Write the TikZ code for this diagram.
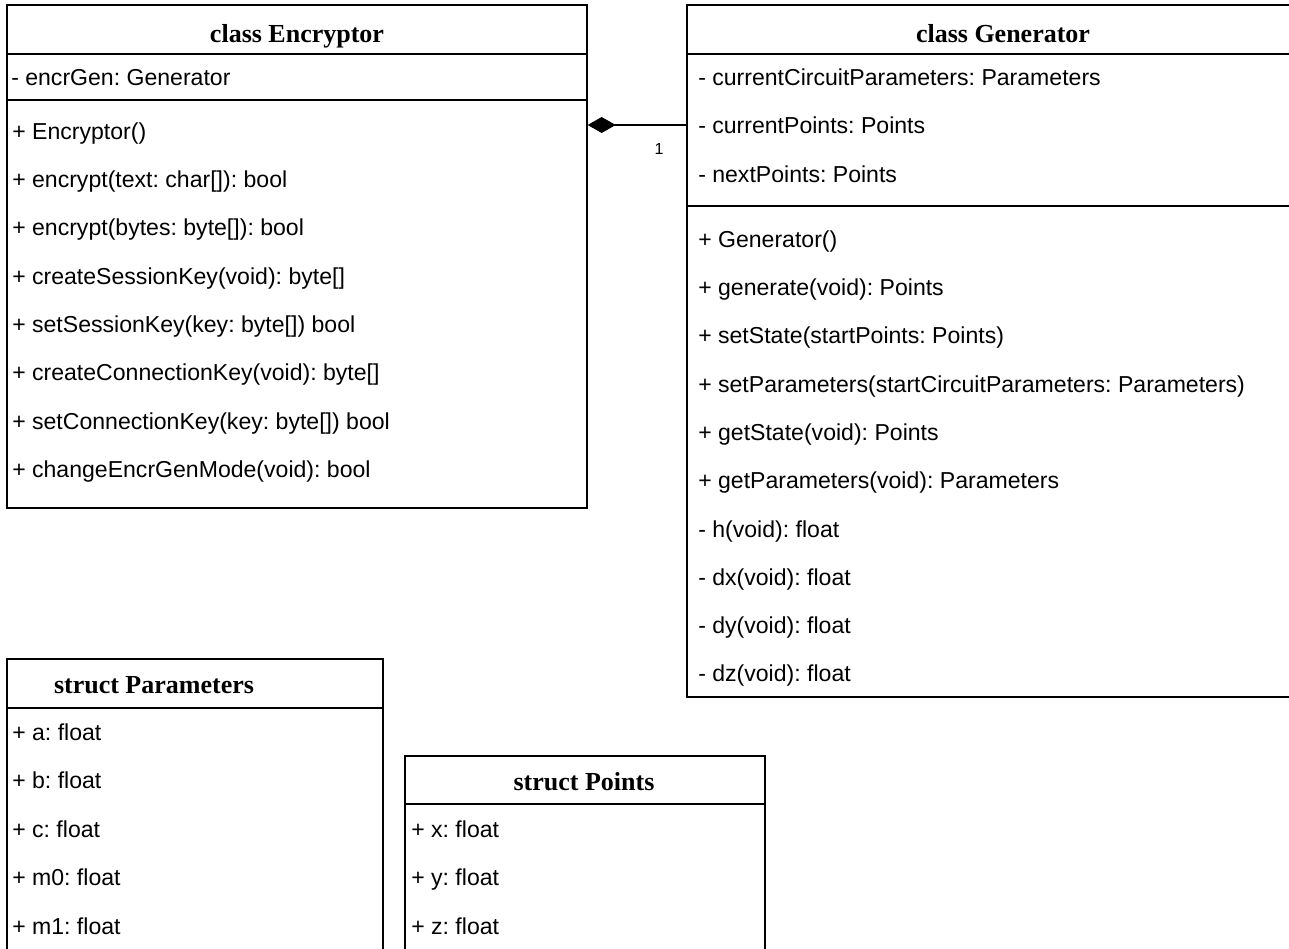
\documentclass[tikz,border=0pt]{standalone}
\usepackage{fontspec}
\setmainfont{Liberation Sans}
\newfontfamily\umlserif{Liberation Serif}
\usetikzlibrary{arrows.meta,positioning,fit}
\frenchspacing
\tikzset{
  umlbox/.style={draw, line width=1pt, inner sep=0pt},
  umltitle/.style={inner sep=0pt, text height=13pt, text depth=0pt,
    font=\umlserif\bfseries\fontsize{19.5}{22}\selectfont},
  umlrow/.style={anchor=west, inner sep=0pt, text height=12.4pt, text depth=0pt,
    font=\fontsize{17.3}{20}\selectfont},
  umlsep/.style={line width=1pt},
  compo/.style={line width=1pt, {Diamond[length=21pt, width=12pt]}-},
}

\begin{document}
\begin{tikzpicture}[x=0.75pt, y=-0.75pt]
  \clip (0,0) rectangle (1289,949);
  \fill[white] (0,0) rectangle (1289,949);

  % class boxes
  \node[umlbox, fit={(7,5) (587,508)}] (enc) {};
  \node[umlbox, fit={(687,5) (1319,697)}] (gen) {};
  \node[umlbox, fit={(7,659) (383,980)}] (par) {};
  \node[umlbox, fit={(405,756) (765,980)}] (pts) {};

  % compartments
  \draw[umlsep] (enc.west |- 0,54) -- (enc.east |- 0,54);
  \draw[umlsep] (enc.west |- 0,100) -- (enc.east |- 0,100);
  \draw[umlsep] (gen.west |- 0,54) -- (gen.east |- 0,54);
  \draw[umlsep] (gen.west |- 0,206) -- (gen.east |- 0,206);
  \draw[umlsep] (par.west |- 0,708) -- (par.east |- 0,708);
  \draw[umlsep] (pts.west |- 0,804) -- (pts.east |- 0,804);

  % titles
  \node[umltitle] (enc-title) at (297,34) {class Encryptor};
  \node[umltitle] (gen-title) at (1003,34) {class Generator};
  \node[umltitle] (par-title) at (154,685) {struct Parameters};
  \node[umltitle] (pts-title) at (584,782) {struct Points};

  % Encryptor members
  \node[umlrow] (enc-a1) at (11,77) {- encrGen: Generator};
  \foreach \txt [count=\i] in {+ Encryptor(), + encrypt(text: char[]): bool,
      + encrypt(bytes: byte[]): bool, + createSessionKey(void): byte[],
      + setSessionKey(key: byte[]) bool, + createConnectionKey(void): byte[],
      + setConnectionKey(key: byte[]) bool, + changeEncrGenMode(void): bool}
    \node[umlrow] (enc-m\i) at (12,{82.7+48.3*\i}) {\txt};

  % Generator members
  \foreach \txt [count=\i] in {- currentCircuitParameters: Parameters,
      - currentPoints: Points, - nextPoints: Points}
    \node[umlrow] (gen-a\i) at (698,{28.3+48.6*\i}) {\txt};
  \foreach \txt [count=\i] in {+ Generator(), + generate(void): Points,
      + setState(startPoints: Points),
      + setParameters(startCircuitParameters: Parameters),
      + getState(void): Points, + getParameters(void): Parameters,
      - h(void): float, - dx(void): float, - dy(void): float, - dz(void): float}
    \node[umlrow] (gen-m\i) at (698,{190.7+48.3*\i}) {\txt};

  % struct fields
  \foreach \txt [count=\i] in {+ a: float, + b: float, + c: float, + m0: float, + m1: float}
    \node[umlrow] (par-f\i) at (12,{683.5+48.5*\i}) {\txt};
  \foreach \txt [count=\i] in {+ x: float, + y: float, + z: float}
    \node[umlrow] (pts-f\i) at (411,{780.5+48.5*\i}) {\txt};

  % composition
  \coordinate (link) at (0,125);
  \draw[compo] (enc.east |- link) -- (gen.west |- link);
  \node[inner sep=0pt, font=\fontsize{12}{14}\selectfont] (mult) at (659,149) {1};
\end{tikzpicture}
\end{document}
